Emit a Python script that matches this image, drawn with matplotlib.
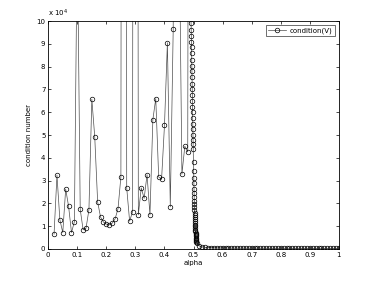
"""Condition number of V versus alpha (MATLAB-style figure)."""

import matplotlib
matplotlib.use("Agg")
import matplotlib.pyplot as plt

# coarse grid, alpha = 0.02 ... 0.49 (values in units of 1e4)
alpha_coarse = [0.02, 0.03, 0.04, 0.05, 0.06, 0.07, 0.08, 0.09, 0.10, 0.11,
                0.12, 0.13, 0.14, 0.15, 0.16, 0.17, 0.18, 0.19, 0.20, 0.21,
                0.22, 0.23, 0.24, 0.25, 0.26, 0.27, 0.28, 0.29, 0.30, 0.31,
                0.32, 0.33, 0.34, 0.35, 0.36, 0.37, 0.38, 0.39, 0.40, 0.41,
                0.42, 0.43, 0.44, 0.45, 0.46, 0.47, 0.48, 0.49]
cond_coarse = [0.65, 3.24, 1.28, 0.72, 2.63, 1.87, 0.72, 1.20, 14.0, 1.74,
               0.84, 0.91, 1.72, 6.57, 4.92, 2.06, 1.40, 1.18, 1.09, 1.06,
               1.13, 1.32, 1.76, 3.16, 120.0, 2.68, 1.22, 1.63, 110.0, 1.50,
               2.68, 2.22, 3.26, 1.49, 5.68, 6.60, 3.16, 3.06, 5.43, 9.05,
               1.85, 9.65, 60.0, 15.0, 3.28, 4.51, 4.26, 80.0]

# fine grid close to the singular point alpha = 0.5
alpha_fine = [0.4915, 0.4920, 0.4925, 0.4928, 0.4932, 0.4935, 0.4938, 0.4941,
              0.4944, 0.4947, 0.4950, 0.4953, 0.4956, 0.4959, 0.4962, 0.4965,
              0.4968, 0.4971, 0.4974, 0.4977, 0.4980, 0.4984, 0.4988,
              0.5000, 0.5004, 0.5008, 0.5011, 0.5014, 0.5017, 0.5020, 0.5023,
              0.5026, 0.5029, 0.5032, 0.5035, 0.5038, 0.5041, 0.5044, 0.5047,
              0.5050, 0.5053, 0.5056, 0.5059, 0.5062, 0.5065, 0.5068, 0.5071,
              0.5074, 0.5077, 0.5080, 0.5083, 0.5086, 0.5090, 0.5095, 0.5120,
              0.5200]
cond_fine = [9.90, 9.60, 9.35, 9.10, 8.85, 8.60, 8.30, 8.05, 7.80, 7.55,
             7.25, 7.00, 6.75, 6.50, 6.25, 6.00, 5.75, 5.50, 5.25, 5.00,
             4.80, 4.60, 4.40,
             3.80, 3.43, 3.13, 2.88, 2.65, 2.44, 2.27, 2.11, 1.96, 1.83,
             1.72, 1.60, 1.50, 1.39, 1.31, 1.22, 1.13, 1.06, 0.99, 0.91,
             0.84, 0.78, 0.72, 0.66, 0.60, 0.55, 0.49, 0.44, 0.40, 0.35,
             0.31, 0.25, 0.13]

# tail, alpha = 0.53 ... 1.00
alpha_tail = [0.53, 0.54, 0.55, 0.56, 0.57, 0.58, 0.59, 0.60, 0.61, 0.62,
              0.63, 0.64, 0.65, 0.66, 0.67, 0.68, 0.69, 0.70, 0.71, 0.72,
              0.73, 0.74, 0.75, 0.76, 0.77, 0.78, 0.79, 0.80, 0.81, 0.82,
              0.83, 0.84, 0.85, 0.86, 0.87, 0.88, 0.89, 0.90, 0.91, 0.92,
              0.93, 0.94, 0.95, 0.96, 0.97, 0.98, 0.99, 1.00]
cond_tail = [0.09, 0.07, 0.06, 0.055, 0.05, 0.048, 0.045, 0.043, 0.042, 0.04,
             0.04, 0.039, 0.038, 0.037, 0.036, 0.036, 0.035, 0.035, 0.034, 0.034,
             0.033, 0.033, 0.032, 0.032, 0.032, 0.031, 0.031, 0.031, 0.030, 0.030,
             0.030, 0.029, 0.029, 0.029, 0.029, 0.028, 0.028, 0.028, 0.028, 0.027,
             0.027, 0.027, 0.027, 0.026, 0.026, 0.026, 0.026, 0.025]

x_ticks = [0, 0.1, 0.2, 0.3, 0.4, 0.5, 0.6, 0.7, 0.8, 0.9, 1]
x_tick_labels = ["0", "0.1", "0.2", "0.3", "0.4", "0.5", "0.6", "0.7", "0.8", "0.9", "1"]
y_ticks = list(range(0, 11))

alpha = alpha_coarse + alpha_fine + alpha_tail
cond = cond_coarse + cond_fine + cond_tail

fig = plt.figure(figsize=(3.74, 2.81), dpi=100)
ax = fig.add_axes([0.129, 0.114, 0.777, 0.811])

ax.plot(alpha, cond, "-o", color="0.3", lw=0.5, ms=3.3,
        mfc="none", mec="black", mew=0.5, label="condition(V)")

ax.set_xlim(0, 1)
ax.set_ylim(0, 10)
ax.set_xticks(x_ticks)
ax.set_xticklabels(x_tick_labels)
ax.set_yticks(y_ticks)
ax.tick_params(direction="in", length=2.5, width=0.5, labelsize=5,
               top=True, right=True, pad=2)
for s in ax.spines.values():
    s.set_linewidth(0.6)

ax.set_xlabel("alpha", fontsize=5, labelpad=1.5)
ax.set_ylabel("condition number", fontsize=5, labelpad=3)
ax.text(0.0, 1.008, r"x 10$^{4}$", transform=ax.transAxes,
        fontsize=5, ha="left", va="bottom")

leg = ax.legend(loc="upper right", fontsize=5, frameon=True, fancybox=False,
                borderpad=0.3, handlelength=2.6, handletextpad=0.5,
                borderaxespad=0.6)
leg.get_frame().set_edgecolor("black")
leg.get_frame().set_linewidth(0.5)

fig.savefig("out.png", dpi=100)
